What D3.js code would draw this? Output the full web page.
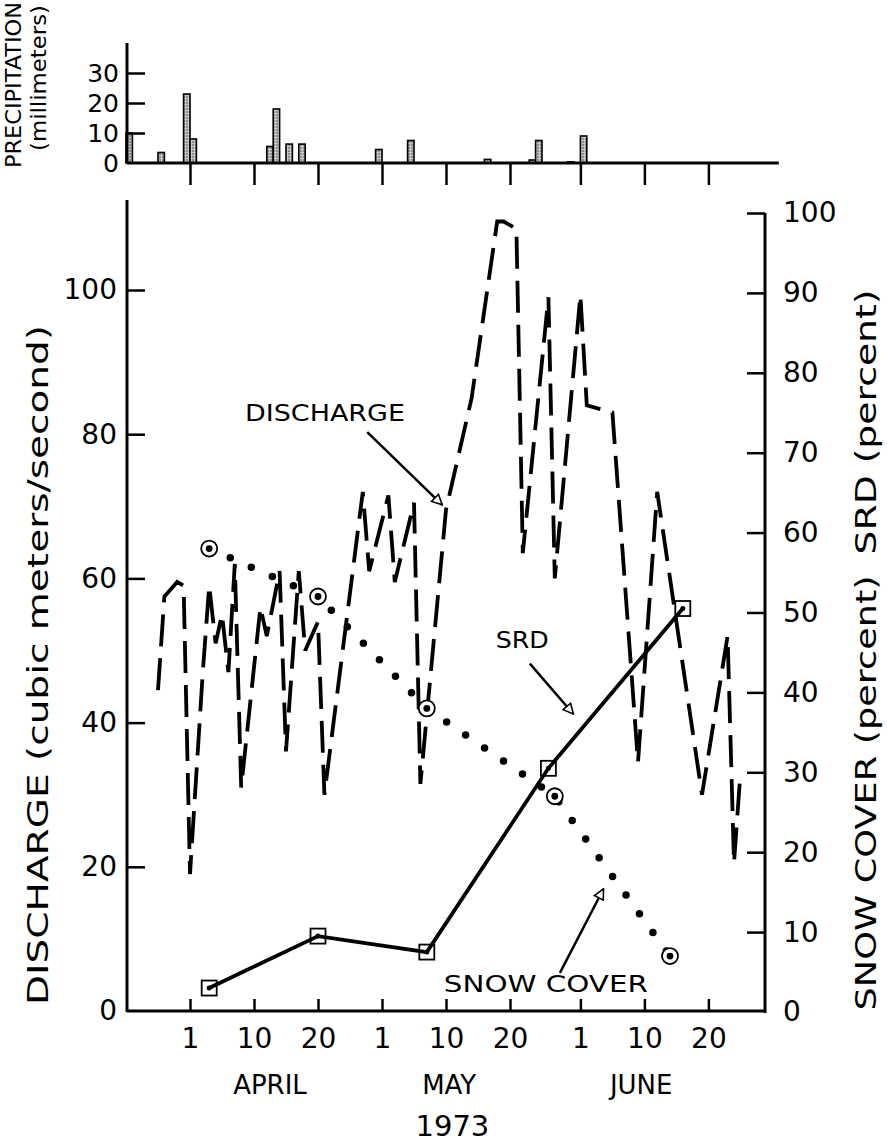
<!DOCTYPE html>
<html><head><meta charset="utf-8">
<script src="https://cdn.jsdelivr.net/npm/d3@7"></script>
<style>
body{margin:0;background:#fff}
svg{display:block;background:#fff}
text{font-family:"DejaVu Sans",sans-serif;fill:#000}
</style>
</head><body>
<svg id="chart" width="887" height="1144"></svg>
<script>
// ---------------- DATA (day of year 1973; Apr 1 = 91) ----------------
const dischargeDays   = [86, 87, 88, 89, 90, 91, 93, 94, 95, 96, 97, 98, 99, 102, 103, 105, 106, 108, 109, 111, 112, 118, 119, 122, 123, 126, 127, 131, 135, 139, 140, 142, 143, 147, 148, 152, 153, 157, 161, 164, 171, 175, 176, 177];
const dischargeValues = [44.5, 57.5, 58.5, 59.5, 59, 19, 47, 59, 51, 55, 47, 62, 31, 56, 52, 61, 36, 61, 50, 54, 30, 72, 61, 71.5, 59.5, 70.5, 31.5, 69.5, 85, 109.5, 109.5, 108.5, 63.5, 99, 60, 99.3, 84, 83, 34.5, 72, 30, 52, 20.5, 33];

const srdDays    = [94, 111, 128, 147, 168];
const srdValues  = [3, 9.5, 7.5, 30.5, 50.5];

const snowDays   = [94, 111, 128, 148, 166];
const snowValues = [58, 52, 38, 27, 7];

const precipDays   = [81, 86, 90, 91, 103, 104, 106, 108, 120, 125, 137, 144, 145, 150, 152];
const precipValues = [10, 3.5, 23, 8, 5.5, 18, 6.3, 6.3, 4.5, 7.5, 1.2, 1, 7.5, 0.4, 9];

const tickDays   = [91, 101, 111, 121, 131, 141, 152, 162, 172];
const tickLabels = ["1", "10", "20", "1", "10", "20", "1", "10", "20"];
const monthLabels = ["APRIL", "MAY", "JUNE"];
const monthDays   = [103.5, 131.5, 161.5];
const yearLabel = "1973";
const yearDay = 132;

const leftTicks   = [20, 40, 60, 80, 100];
const leftLabels  = [0, 20, 40, 60, 80, 100];
const rightTicks  = [10, 20, 30, 40, 50, 60, 70, 80, 90, 100];
const rightLabels = [0, 10, 20, 30, 40, 50, 60, 70, 80, 90, 100];
const precipTicks  = [10, 20, 30];
const precipLabels = [0, 10, 20, 30];

// ---------------- LAYOUT ----------------
const svg = d3.select("#chart");
const X0 = 127, X1 = 765;
const x  = d3.scaleLinear().domain([81, 181]).range([126, 766]);
const yL = d3.scaleLinear().domain([0, 100]).range([1011, 290]);
const yR = d3.scaleLinear().domain([0, 100]).range([1012, 213]);
const yP = d3.scaleLinear().domain([0, 30]).range([163, 73]);

// patterns / markers
const defs = svg.append("defs");
const pat = defs.append("pattern").attr("id","stip").attr("width",3).attr("height",3).attr("patternUnits","userSpaceOnUse");
pat.append("rect").attr("width",3).attr("height",3).attr("fill","#c8c8c8");
pat.append("circle").attr("cx",1).attr("cy",1).attr("r",0.8).attr("fill","#444");
defs.append("marker").attr("id","arr").attr("viewBox","0 0 12 12").attr("refX",11).attr("refY",6)
  .attr("markerWidth",12).attr("markerHeight",12).attr("markerUnits","userSpaceOnUse").attr("orient","auto")
  .append("path").attr("d","M1,1 L11,6 L1,11 Z").attr("fill","#fff").attr("stroke","#000").attr("stroke-width",1.6);

function styleAxis(g, w){
  g.selectAll("path.domain").remove();
  g.selectAll(".tick line").attr("stroke","#000").attr("stroke-width",w);
}

// ---------------- PRECIPITATION PANEL ----------------
const pGroup = svg.append("g");
pGroup.selectAll("rect.bar").data(precipDays.map((d,i)=>({d, v:precipValues[i]}))).join("rect")
  .attr("class","bar")
  .attr("x", p => x(p.d)).attr("width", p => x(p.d+1)-x(p.d))
  .attr("y", p => yP(p.v)).attr("height", p => yP(0)-yP(p.v))
  .attr("fill","url(#stip)").attr("stroke","#000").attr("stroke-width",1.6);
pGroup.append("line").attr("x1",X0).attr("x2",x(183)).attr("y1",yP(0)).attr("y2",yP(0)).attr("stroke","#000").attr("stroke-width",3);
pGroup.append("line").attr("x1",X0).attr("x2",X0).attr("y1",yP(0)).attr("y2",yP(40)).attr("stroke","#000").attr("stroke-width",3);
const pTicks = pGroup.append("g").attr("transform",`translate(${X0},0)`).call(d3.axisRight(yP).tickValues(precipTicks).tickSize(18).tickFormat(""));
styleAxis(pTicks, 2.5);
const pLab = pGroup.append("g").attr("transform",`translate(${X0},0)`).call(d3.axisLeft(yP).tickValues(precipLabels).tickSize(0).tickPadding(8));
pLab.selectAll("path.domain").remove();
pLab.selectAll("text").attr("font-size",25).attr("font-family","DejaVu Sans").attr("fill","#000");
const pX = pGroup.append("g").attr("transform",`translate(0,${yP(0)})`).call(d3.axisBottom(x).tickValues(tickDays).tickSize(22).tickFormat(""));
styleAxis(pX, 2.5);
svg.append("text").attr("transform","translate(13,85) rotate(-90)").attr("text-anchor","middle").attr("dy","0.36em")
  .attr("font-size",21).attr("textLength",166).attr("lengthAdjust","spacingAndGlyphs").text("PRECIPITATION");
svg.append("text").attr("transform","translate(38,78) rotate(-90)").attr("text-anchor","middle").attr("dy","0.36em")
  .attr("font-size",21).attr("textLength",146).attr("lengthAdjust","spacingAndGlyphs").text("(millimeters)");

// ---------------- MAIN AXES ----------------
const axW = 3;
svg.append("line").attr("x1",X0).attr("x2",X0).attr("y1",200).attr("y2",yL(0)+1).attr("stroke","#000").attr("stroke-width",axW);
svg.append("line").attr("x1",X1).attr("x2",X1).attr("y1",yR(100)).attr("y2",yR(0)+1).attr("stroke","#000").attr("stroke-width",axW);
svg.append("line").attr("x1",X0).attr("x2",X1).attr("y1",yL(0)).attr("y2",yL(0)).attr("stroke","#000").attr("stroke-width",axW);

const lT = svg.append("g").attr("transform",`translate(${X0},0)`).call(d3.axisRight(yL).tickValues(leftTicks).tickSize(18).tickFormat(""));
styleAxis(lT, 2.5);
const lL = svg.append("g").attr("transform",`translate(${X0},0)`).call(d3.axisLeft(yL).tickValues(leftLabels).tickSize(0).tickPadding(10));
lL.selectAll("path.domain").remove();
lL.selectAll("text").attr("font-size",28).attr("font-family","DejaVu Sans").attr("fill","#000");

const rT = svg.append("g").attr("transform",`translate(${X1},0)`).call(d3.axisLeft(yR).tickValues(rightTicks).tickSize(18).tickFormat(""));
styleAxis(rT, 2.5);
const rL = svg.append("g").attr("transform",`translate(${X1},0)`).call(d3.axisRight(yR).tickValues(rightLabels).tickSize(0).tickPadding(18));
rL.selectAll("path.domain").remove();
rL.selectAll("text").attr("font-size",28).attr("font-family","DejaVu Sans").attr("fill","#000");

const bT = svg.append("g").attr("transform",`translate(0,${yL(0)})`).call(d3.axisTop(x).tickValues(tickDays).tickSize(12).tickFormat(""));
styleAxis(bT, 2.5);
const bL = svg.append("g").attr("transform",`translate(0,${yL(0)})`).call(d3.axisBottom(x).tickValues(tickDays).tickSize(0).tickPadding(17).tickFormat((d,i)=>tickLabels[i]));
bL.selectAll("path.domain").remove();
bL.selectAll("text").attr("font-size",28).attr("font-family","DejaVu Sans").attr("fill","#000");

svg.selectAll("text.month").data(monthLabels).join("text").attr("class","month")
  .attr("x",(d,i)=>x(monthDays[i])).attr("y",1094).attr("text-anchor","middle").attr("font-size",26).text(d=>d);
svg.append("text").attr("x",x(yearDay)).attr("y",1136).attr("text-anchor","middle").attr("font-size",29).text(yearLabel);

svg.append("text").attr("transform","translate(38,665) rotate(-90)").attr("text-anchor","middle").attr("dy","0.35em")
  .attr("font-size",28).attr("textLength",680).attr("lengthAdjust","spacingAndGlyphs").text("DISCHARGE (cubic meters/second)");
svg.append("text").attr("transform","translate(866,422) rotate(-90)").attr("text-anchor","middle").attr("dy","0.35em")
  .attr("font-size",28).attr("textLength",265).attr("lengthAdjust","spacingAndGlyphs").text("SRD (percent)");
svg.append("text").attr("transform","translate(866,793) rotate(-90)").attr("text-anchor","middle").attr("dy","0.35em")
  .attr("font-size",28).attr("textLength",435).attr("lengthAdjust","spacingAndGlyphs").text("SNOW COVER (percent)");

// ---------------- SERIES ----------------
const dis = dischargeDays.map((d,i)=>[d, dischargeValues[i]]);
svg.append("path").datum(dis)
  .attr("d", d3.line().x(p=>x(p[0])).y(p=>yL(p[1])))
  .attr("fill","none").attr("stroke","#000").attr("stroke-width",3.8)
  .attr("stroke-dasharray","32 12").attr("stroke-linejoin","miter");

const snow = snowDays.map((d,i)=>[d, snowValues[i]]);
svg.append("path").datum(snow)
  .attr("d", d3.line().x(p=>x(p[0])).y(p=>yR(p[1])))
  .attr("fill","none").attr("stroke","#000").attr("stroke-width",7.5)
  .attr("stroke-linecap","round").attr("stroke-dasharray","0 23");
const sc = svg.selectAll("g.snow").data(snow).join("g").attr("class","snow")
  .attr("transform",p=>`translate(${x(p[0])},${yR(p[1])})`);
sc.append("circle").attr("r",8).attr("fill","#fff").attr("stroke","#000").attr("stroke-width",1.8);
sc.append("circle").attr("r",3.4).attr("fill","#000");

const srd = srdDays.map((d,i)=>[d, srdValues[i]]);
svg.append("path").datum(srd)
  .attr("d", d3.line().x(p=>x(p[0])).y(p=>yR(p[1])))
  .attr("fill","none").attr("stroke","#000").attr("stroke-width",3.8);
const sq = svg.selectAll("g.srd").data(srd).join("g").attr("class","srd")
  .attr("transform",p=>`translate(${x(p[0])},${yR(p[1])})`);
sq.append("rect").attr("x",-7.5).attr("y",-7.5).attr("width",15).attr("height",15)
  .attr("fill","none").attr("stroke","#000").attr("stroke-width",1.8);
sq.append("circle").attr("r",2.5).attr("fill","#000");

// ---------------- ANNOTATIONS ----------------
const annText = ["DISCHARGE", "SRD", "SNOW COVER"];
const annPos  = [[112.1, 83], [142.9, 46.6], [146.6, 3.5]];       // [day, value] text centre
const annAxis = ["L", "R", "R"];
const annFrom = [[118.7, 80.3], [144.1, 43.6], [148.8, 4.9]];
const annTo   = [[130.4, 70.2], [150.9, 37.3], [155.6, 15.4]];
const annLen  = [160, 53, 204];
annText.forEach((t,i)=>{
  const ys = annAxis[i]==="L" ? yL : yR;
  svg.append("text").attr("x",x(annPos[i][0])).attr("y",ys(annPos[i][1])).attr("dy","0.36em")
    .attr("text-anchor","middle").attr("font-size",23).attr("textLength",annLen[i]).attr("lengthAdjust","spacingAndGlyphs").text(t);
  svg.append("line").attr("x1",x(annFrom[i][0])).attr("y1",ys(annFrom[i][1]))
    .attr("x2",x(annTo[i][0])).attr("y2",ys(annTo[i][1]))
    .attr("stroke","#000").attr("stroke-width",2.5).attr("marker-end","url(#arr)");
});
</script>
</body></html>
